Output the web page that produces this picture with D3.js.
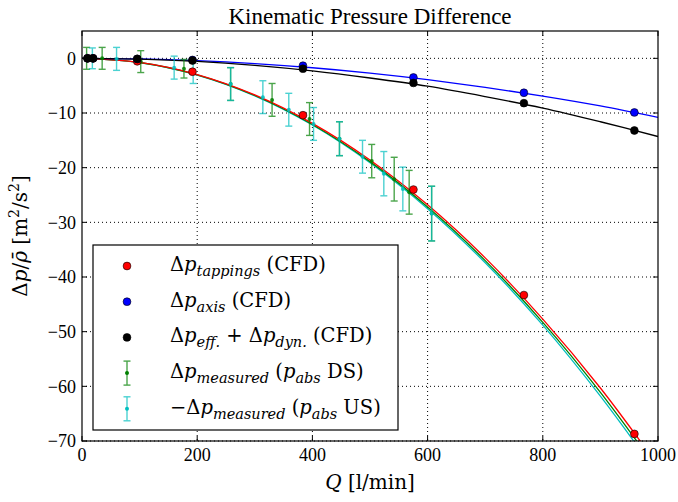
<!DOCTYPE html>
<html>
<head>
<meta charset="utf-8">
<script src="https://cdn.jsdelivr.net/npm/d3@7"></script>
<style>
  body { margin: 0; background: #fff; }
  svg { display: block; font-family: "Liberation Serif", "DejaVu Serif", serif; }
  .math { font-family: "DejaVu Serif", serif; }
</style>
</head>
<body>
<svg id="chart" width="678" height="502"></svg>
<script>
// CFD flow rates [l/min]
const cfdQ = [9.6, 19.2, 95.9, 191.8, 383.6, 575.4, 767.2, 959];
const tappings = [0, 0, -0.55, -2.45, -10.4, -24.0, -43.3, -68.7];
const axisP = [0, 0, -0.1, -0.3, -1.35, -3.5, -6.3, -9.9];
const effDyn = [0, 0, -0.1, -0.4, -1.9, -4.5, -8.2, -13.2];

// fitted curves read at every 100 l/min
const fitQ = [0, 100, 200, 300, 400, 500, 600, 700, 800, 900, 1000];
const fitTappings = [0, -0.75, -2.98, -6.7, -11.9, -18.6, -26.8, -36.5, -47.7, -60.3, -74.5];
const fitAxis = [0, -0.11, -0.43, -0.97, -1.72, -2.7, -3.9, -5.3, -6.9, -8.7, -10.8];
const fitEffDyn = [0, -0.14, -0.57, -1.3, -2.3, -3.6, -5.1, -7.0, -9.1, -11.6, -14.3];
const fitDS = [0, -0.76, -3.02, -6.8, -12.1, -18.9, -27.2, -37.0, -48.3, -61.1, -75.4];
const fitUS = [0, -0.77, -3.05, -6.85, -12.2, -19.1, -27.5, -37.4, -48.8, -61.8, -76.2];

// measurements with error bars
const dsQ = [8, 35, 102, 177, 258, 330, 395, 447, 503, 542, 568, 607];
const dsVal = [0, 0, -0.6, -1.9, -4.7, -7.6, -11.1, -14.7, -18.8, -22.1, -24.5, -28.4];
const dsErr = [2.0, 2.0, 2.0, 1.7, 3.0, 3.0, 3.0, 3.1, 3.05, 4.0, 4.0, 5.0];
const usQ = [18, 60, 160, 193, 258, 314, 359, 402, 447, 487, 524, 557, 607];
const usVal = [0, -0.1, -1.7, -2.6, -4.7, -7.1, -9.4, -12.0, -14.7, -18.0, -21.1, -23.9, -28.4];
const usErr = [1.9, 2.1, 2.1, 2.0, 3.0, 3.0, 3.0, 3.0, 3.1, 3.0, 4.05, 4.0, 5.0];

const xTicks = [0, 200, 400, 600, 800, 1000];
const yTicks = [0, -10, -20, -30, -40, -50, -60, -70];

const mLeft = 82, mRight = 658, mTop = 31, mBottom = 441;
const svg = d3.select("#chart");

const x = d3.scaleLinear().domain([0, 1000]).range([mLeft, mRight]);
const y = d3.scaleLinear().domain([-70, 5]).range([mBottom, mTop]);
const fmt = d => d < 0 ? "\u2212" + Math.abs(d) : "" + d;

svg.append("defs").append("clipPath").attr("id", "clip")
  .append("rect").attr("x", mLeft).attr("y", mTop)
  .attr("width", mRight - mLeft).attr("height", mBottom - mTop);

// grid
const grid = svg.append("g").attr("stroke", "#000").attr("stroke-width", 1)
  .attr("stroke-dasharray", "1,3");
xTicks.slice(1, -1).forEach(t => grid.append("line")
  .attr("x1", x(t)).attr("x2", x(t)).attr("y1", mTop).attr("y2", mBottom));
yTicks.slice(1).forEach(t => grid.append("line")
  .attr("x1", mLeft).attr("x2", mRight).attr("y1", y(t)).attr("y2", y(t)));
grid.append("line").attr("x1", mLeft).attr("x2", mRight).attr("y1", y(0)).attr("y2", y(0));

const plot = svg.append("g").attr("clip-path", "url(#clip)");

const line = d3.line().curve(d3.curveCatmullRom)
  .x(d => x(d[0])).y(d => y(d[1]));

function fit(vals, color) {
  plot.append("path")
    .datum(fitQ.map((q, i) => [q, vals[i]]))
    .attr("d", line)
    .attr("fill", "none")
    .attr("stroke", color)
    .attr("stroke-width", 1.3);
}
fit(fitUS, "#00bfbf");
fit(fitDS, "#008000");
fit(fitTappings, "#ff0000");
fit(fitAxis, "#0000ff");
fit(fitEffDyn, "#000000");

function errorBars(qs, vals, errs, color) {
  const g = plot.append("g").attr("stroke", color).attr("stroke-width", 1.4)
    .attr("opacity", 0.7);
  qs.forEach((q, i) => {
    const cx = x(q), y1 = y(vals[i] + errs[i]), y2 = y(vals[i] - errs[i]);
    g.append("line").attr("x1", cx).attr("x2", cx).attr("y1", y1).attr("y2", y2);
    g.append("line").attr("x1", cx - 3.5).attr("x2", cx + 3.5).attr("y1", y1).attr("y2", y1);
    g.append("line").attr("x1", cx - 3.5).attr("x2", cx + 3.5).attr("y1", y2).attr("y2", y2);
    plot.append("circle").attr("cx", cx).attr("cy", y(vals[i])).attr("r", 2)
      .attr("fill", color).attr("opacity", 0.85);
  });
}
errorBars(dsQ, dsVal, dsErr, "#008000");
errorBars(usQ, usVal, usErr, "#00bfbf");

function points(vals, color) {
  plot.selectAll(null).data(cfdQ.map((q, i) => [q, vals[i]])).enter()
    .append("circle")
    .attr("cx", d => x(d[0])).attr("cy", d => y(d[1])).attr("r", 3.9)
    .attr("fill", color).attr("stroke", "#000").attr("stroke-width", 0.6);
}
points(tappings, "#ff0000");
points(axisP, "#0000ff");
points(effDyn, "#000000");

// frame and ticks
svg.append("rect").attr("x", mLeft).attr("y", mTop)
  .attr("width", mRight - mLeft).attr("height", mBottom - mTop)
  .attr("fill", "none").attr("stroke", "#000").attr("stroke-width", 1.2);

const ticks = svg.append("g").attr("stroke", "#000").attr("stroke-width", 1);
xTicks.forEach(t => {
  ticks.append("line").attr("x1", x(t)).attr("x2", x(t)).attr("y1", mBottom).attr("y2", mBottom - 5);
  ticks.append("line").attr("x1", x(t)).attr("x2", x(t)).attr("y1", mTop).attr("y2", mTop + 5);
});
yTicks.forEach(t => {
  ticks.append("line").attr("x1", mLeft).attr("x2", mLeft + 5).attr("y1", y(t)).attr("y2", y(t));
  ticks.append("line").attr("x1", mRight).attr("x2", mRight - 5).attr("y1", y(t)).attr("y2", y(t));
});

svg.append("g").selectAll("text").data(xTicks).enter().append("text")
  .attr("x", d => x(d)).attr("y", mBottom + 20)
  .attr("text-anchor", "middle").attr("font-size", 18)
  .text(fmt);
svg.append("g").selectAll("text").data(yTicks).enter().append("text")
  .attr("x", mLeft - 6).attr("y", d => y(d)).attr("dy", "0.35em")
  .attr("text-anchor", "end").attr("font-size", 18)
  .text(fmt);

// title and axis labels
svg.append("text").attr("x", (mLeft + mRight) / 2).attr("y", 24)
  .attr("text-anchor", "middle").attr("font-size", 23)
  .text("Kinematic Pressure Difference");

const xl = svg.append("text").attr("class", "math")
  .attr("x", (mLeft + mRight) / 2).attr("y", 489)
  .attr("text-anchor", "middle").attr("font-size", 20);
xl.append("tspan").attr("font-style", "italic").text("Q");
xl.append("tspan").text(" [l/min]");

const yl = svg.append("text").attr("class", "math")
  .attr("transform", `translate(27,${(mTop + mBottom) / 2}) rotate(-90)`)
  .attr("text-anchor", "middle").attr("font-size", 20);
yl.append("tspan").text("\u0394");
yl.append("tspan").attr("font-style", "italic").text("p");
yl.append("tspan").text("/");
yl.append("tspan").attr("font-style", "italic").text("\u03c1\u0304");
yl.append("tspan").text(" [m");
yl.append("tspan").attr("font-size", 14).attr("dy", -8).text("2");
yl.append("tspan").attr("dy", 8).text("/s");
yl.append("tspan").attr("font-size", 14).attr("dy", -8).text("2");
yl.append("tspan").attr("dy", 8).text("]");

// legend
const lg = svg.append("g");
lg.append("rect").attr("x", 93).attr("y", 245).attr("width", 305).attr("height", 185)
  .attr("fill", "#fff").attr("stroke", "#000").attr("stroke-width", 1.2);

const legendRows = [
  { kind: "dot", color: "#ff0000", parts: [["\u0394", "n"], ["p", "i"], ["tappings", "s"], [" (CFD)", "n"]] },
  { kind: "dot", color: "#0000ff", parts: [["\u0394", "n"], ["p", "i"], ["axis", "s"], [" (CFD)", "n"]] },
  { kind: "dot", color: "#000000", parts: [["\u0394", "n"], ["p", "i"], ["eff.", "s"], [" + \u0394", "n"], ["p", "i"], ["dyn.", "s"], [" (CFD)", "n"]] },
  { kind: "err", color: "#008000", parts: [["\u0394", "n"], ["p", "i"], ["measured", "s"], [" (", "n"], ["p", "i"], ["abs", "s"], [" DS)", "n"]] },
  { kind: "err", color: "#00bfbf", parts: [["\u2212\u0394", "n"], ["p", "i"], ["measured", "s"], [" (", "n"], ["p", "i"], ["abs", "s"], [" US)", "n"]] }
];

legendRows.forEach((row, i) => {
  const cy = 266 + i * 35.7;
  if (row.kind === "dot") {
    lg.append("circle").attr("cx", 127).attr("cy", cy).attr("r", 3.9)
      .attr("fill", row.color).attr("stroke", "#000").attr("stroke-width", 0.6);
  } else {
    const g = lg.append("g").attr("stroke", row.color).attr("stroke-width", 1.4).attr("opacity", 0.7);
    g.append("line").attr("x1", 127).attr("x2", 127).attr("y1", cy - 12).attr("y2", cy + 12);
    g.append("line").attr("x1", 123.5).attr("x2", 130.5).attr("y1", cy - 12).attr("y2", cy - 12);
    g.append("line").attr("x1", 123.5).attr("x2", 130.5).attr("y1", cy + 12).attr("y2", cy + 12);
    lg.append("circle").attr("cx", 127).attr("cy", cy).attr("r", 2).attr("fill", row.color);
  }
  const t = lg.append("text").attr("class", "math")
    .attr("x", 170).attr("y", cy + 5).attr("font-size", 19.5);
  let shifted = false;
  row.parts.forEach(([s, kind]) => {
    const ts = t.append("tspan").text(s);
    if (kind === "i") ts.attr("font-style", "italic");
    if (kind === "s") {
      ts.attr("font-style", "italic").attr("font-size", 14.5).attr("dy", shifted ? 0 : 5);
      shifted = true;
    } else if (shifted) {
      ts.attr("dy", -5);
      shifted = false;
    }
  });
});
</script>
</body>
</html>
